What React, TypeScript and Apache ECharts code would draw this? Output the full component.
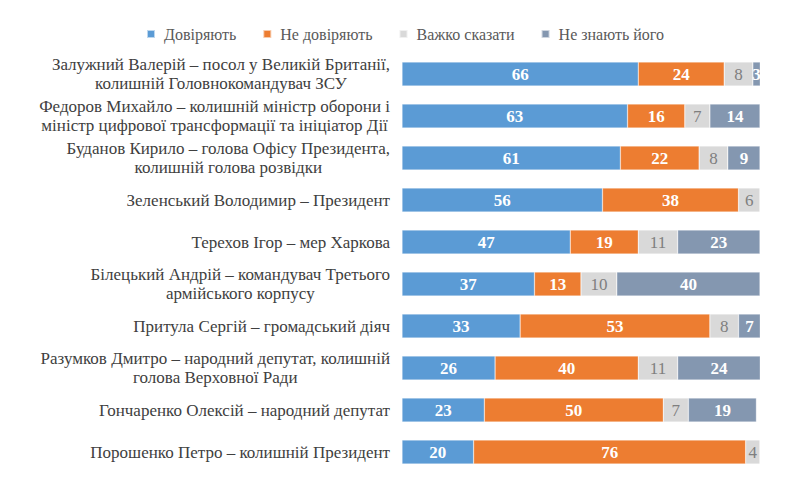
import React, { useEffect, useRef } from "react";
import * as echarts from "echarts";

const categories = [
  "Залужний Валерій – посол у Великій Британії,\nколишній Головнокомандувач ЗСУ",
  "Федоров Михайло – колишній міністр оборони і\nміністр цифрової трансформації та ініціатор Дії",
  "Буданов Кирило – голова Офісу Президента,\nколишній голова розвідки",
  "Зеленський Володимир – Президент",
  "Терехов Ігор – мер Харкова",
  "Білецький Андрій – командувач Третього\nармійського корпусу",
  "Притула Сергій – громадський діяч",
  "Разумков Дмитро – народний депутат, колишній\nголова Верховної Ради",
  "Гончаренко Олексій – народний депутат",
  "Порошенко Петро – колишній Президент",
];

const trust = [66, 63, 61, 56, 47, 37, 33, 26, 23, 20];
const distrust = [24, 16, 22, 38, 19, 13, 53, 40, 50, 76];
const hardToSay = [8, 7, 8, 6, 11, 10, 8, 11, 7, 4];
const dontKnow = [3, 14, 9, 0, 23, 40, 7, 24, 19, 0];

const seriesNames = ["Довіряють", "Не довіряють", "Важко сказати", "Не знають його"];
const seriesColors = ["#5B9BD5", "#ED7D31", "#D9D9D9", "#8497B0"];
const seriesData = [trust, distrust, hardToSay, dontKnow];

const FONT = "Liberation Serif";

export default function App() {
  const ref = useRef<HTMLDivElement>(null);
  useEffect(() => {
    document.body.style.margin = "0";
    if (!ref.current) return;
    const chart = echarts.init(ref.current, null, { renderer: "svg" });
    chart.setOption({
      animation: false,
      backgroundColor: "#ffffff",
      legend: {
        top: 21,
        left: 141,
        itemWidth: 8,
        itemHeight: 8,
        itemGap: 26,
        icon: "rect",
        textStyle: { fontFamily: FONT, fontSize: 16, color: "#595959", padding: [0, 0, 0, 4] },
        data: seriesNames,
      },
      grid: { left: 402, right: 40, top: 53, bottom: 13, containLabel: false },
      xAxis: { type: "value", min: 0, max: 100, show: false },
      yAxis: {
        type: "category",
        inverse: true,
        data: categories,
        axisLine: { show: false },
        axisTick: { show: false },
        splitLine: { show: false },
        axisLabel: {
          margin: 12,
          fontFamily: FONT,
          fontSize: 17,
          color: "#404040",
          lineHeight: 19,
          formatter: (v: string) =>
            v
              .split("\n")
              .map((l) => `{c|${l}}`)
              .join("\n"),
          rich: {
            c: { align: "center", fontFamily: FONT, fontSize: 17, color: "#404040", lineHeight: 19 },
          },
        },
      },
      series: seriesNames.map((name, i) => ({
        name,
        type: "bar",
        stack: "total",
        barWidth: 24,
        data: seriesData[i],
        itemStyle: { color: seriesColors[i], borderColor: "rgba(255,255,255,0.6)", borderWidth: 0.5 },
        label: {
          show: true,
          position: "inside",
          fontFamily: FONT,
          fontSize: 17,
          fontWeight: i === 2 ? "normal" : "bold",
          color: i === 2 ? "#7F7F7F" : "#FFFFFF",
          formatter: (p: any) => (p.value === 0 ? "" : String(p.value)),
        },
      })),
    });
    return () => chart.dispose();
  }, []);
  return <div ref={ref} style={{ width: 800, height: 486 }} />;
}
